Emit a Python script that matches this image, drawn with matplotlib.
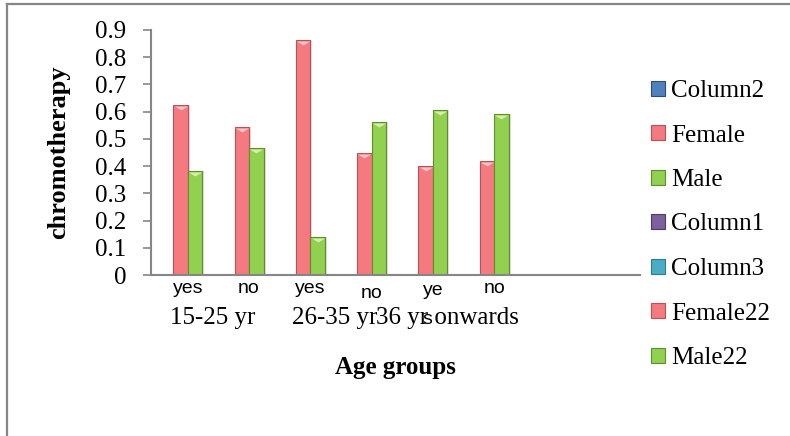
import numpy as np
import matplotlib
matplotlib.use("Agg")
import matplotlib.pyplot as plt
import matplotlib.transforms as mtransforms
from matplotlib.patches import Patch
from matplotlib.lines import Line2D

# chromotherapy answers by age group
answers = ['yes', 'no', 'yes', 'no', 'ye\ns', 'no']
age_groups = ['15-25 yr', '26-35 yr', '36 yr onwards']
female = [0.625, 0.545, 0.862, 0.447, 0.401, 0.418]
male = [0.381, 0.465, 0.140, 0.562, 0.606, 0.590]

series_names = ['Column2', 'Female', 'Male', 'Column1', 'Column3', 'Female22', 'Male22']
series_colors = ['#4F81BD', '#F47A80', '#92D050', '#7D60A0', '#4BACC6', '#F47A80', '#92D050']
series_edges = ['#2C4D75', '#B45358', '#5E8C2E', '#4D3B62', '#2C7C94', '#B45358', '#5E8C2E']

serif = 'Liberation Serif'
sans = 'Liberation Sans'
gray = '#868686'

fig = plt.figure(figsize=(7.9, 4.36), dpi=100)
ax = fig.add_axes([151 / 790, 1 - 275 / 436, 489 / 790, 245 / 436])

x = np.arange(len(answers))
w = 0.236

# soft shadow to the right of each bar
shadow = mtransforms.offset_copy(ax.transData, fig, x=2, y=0, units='dots')
ax.bar(x - w / 2, female, w, color='#000000', alpha=0.12, transform=shadow, zorder=1)
ax.bar(x + w / 2, male, w, color='#000000', alpha=0.12, transform=shadow, zorder=1)

ax.bar(x - w / 2, female, w, color=series_colors[1], edgecolor=series_edges[1],
       linewidth=0.8, zorder=2)
ax.bar(x + w / 2, male, w, color=series_colors[2], edgecolor=series_edges[2],
       linewidth=0.8, zorder=2)

# bevel highlight on the top of every bar
bevel = [(-1, 0.3), (1, 0.3), (0, -0.3), (-1, 0.3)]
top = mtransforms.offset_copy(ax.transData, fig, x=0, y=-3, units='dots')
ax.plot(x - w / 2, female, linestyle='none', marker=bevel, markersize=9.5,
        color='#FCC4C6', markeredgewidth=0, transform=top, zorder=3)
ax.plot(x + w / 2, male, linestyle='none', marker=bevel, markersize=9.5,
        color='#D2F0A8', markeredgewidth=0, transform=top, zorder=3)

ax.set_xlim(-0.6, 7.38)
ax.set_ylim(0, 0.9)
ax.set_yticks(np.arange(0, 0.91, 0.1))
ax.set_yticklabels(['0'] + ['%.1f' % v for v in np.arange(0.1, 0.91, 0.1)],
                   fontfamily=serif, fontsize=18)
ax.set_xticks([])
ax.tick_params(axis='y', direction='out', length=5.8, width=1.2, color=gray, pad=12)

for s in ['top', 'right']:
    ax.spines[s].set_visible(False)
for s in ['left', 'bottom']:
    ax.spines[s].set_color(gray)
    ax.spines[s].set_linewidth(1.5)

# answer labels under each pair of bars (wrapped one sits on its last line)
btrans = mtransforms.blended_transform_factory(ax.transData, ax.transAxes)
for i, lab in enumerate(answers):
    if '\n' in lab:
        yy = -0.2
    elif i == 3:
        yy = -0.094
    else:
        yy = -0.0735
    ax.text(i, yy, lab, transform=btrans, ha='center', va='baseline',
            multialignment='left', linespacing=1.95,
            fontfamily=sans, fontsize=14)

# age group labels
for gx, g in zip([0.40, 2.39, 4.23], age_groups):
    ax.text(gx, -0.2, g, transform=btrans, ha='center', va='baseline',
            fontfamily=serif, fontsize=18)

ax.text(0.5, -0.404, 'Age groups', transform=ax.transAxes, ha='center',
        va='baseline', fontfamily=serif, fontsize=18, fontweight='bold')
ax.set_ylabel('chromotherapy', fontfamily=serif, fontsize=19, fontweight='bold')
ax.yaxis.set_label_coords(-0.166, 0.5)

handles = [Patch(facecolor=c, edgecolor=e, linewidth=0.8)
           for c, e in zip(series_colors, series_edges)]
fig.legend(handles, series_names, loc='upper left',
           bbox_to_anchor=(651 / 790, 1 - 80 / 436), frameon=False,
           prop={'family': serif, 'size': 18}, handlelength=0.56,
           handleheight=0.56, handletextpad=0.25, labelspacing=0.9,
           borderpad=0, borderaxespad=0)

# chart area border
fig.add_artist(Line2D([6.5 / 790, 6.5 / 790], [0, 1 - 4.5 / 436],
                      transform=fig.transFigure, color=gray, linewidth=1.6))
fig.add_artist(Line2D([6.5 / 790, 1], [1 - 4.5 / 436, 1 - 4.5 / 436],
                      transform=fig.transFigure, color=gray, linewidth=1.6))

fig.savefig('out.png', dpi=100)
